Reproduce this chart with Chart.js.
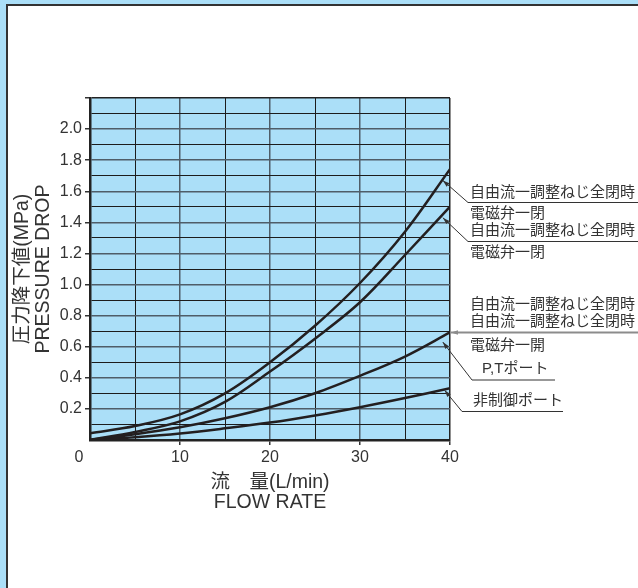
<!DOCTYPE html>
<html>
<head>
<meta charset="utf-8">
<script src="https://cdn.jsdelivr.net/npm/chart.js@4.4.1/dist/chart.umd.min.js"></script>
<style>
  html, body { margin: 0; padding: 0; width: 638px; height: 588px; overflow: hidden; background: #abdff8; }
  #panel { position: absolute; left: 6px; top: 4px; width: 700px; height: 700px; background: #fff;
           border-left: 2px solid #333; border-top: 2px solid #333; }
  #wrap { position: absolute; left: 0; top: 0; width: 638px; height: 588px; }
</style>
</head>
<body>
<div id="panel"></div>
<div id="wrap"><canvas id="chart" width="638" height="588"></canvas></div>
<script>
// 流量 (L/min)
const flowRate = [0, 5, 10, 15, 20, 25, 30, 35, 40];
// 圧力降下値 (MPa)
const freeFlowClosedA = [0.043, 0.09, 0.165, 0.30, 0.50, 0.735, 1.01, 1.34, 1.742];
const freeFlowClosedB = [0, 0.052, 0.12, 0.245, 0.44, 0.652, 0.886, 1.19, 1.501];
const ptPort = [0, 0.037, 0.082, 0.14, 0.211, 0.301, 0.413, 0.537, 0.692];
const uncontrolledPort = [0, 0.018, 0.042, 0.075, 0.112, 0.158, 0.211, 0.27, 0.333];

const xTitle = ['流　量(L/min)', 'FLOW RATE'];
const yTitle = ['圧力降下値(MPa)', 'PRESSURE DROP'];
const LABEL_FREE = '自由流一調整ねじ全閉時';
const LABEL_CLOSED = '電磁弁一閉';
const LABEL_OPEN = '電磁弁一開';
const LABEL_PT = 'P,Tポート';
const LABEL_NC = '非制御ポート';

const INK = '#231f20';
const TEXT = '#333';
const PLOT_BG = '#abdff8';
const FONT = '"Liberation Sans", "Noto Sans CJK JP", sans-serif';

function series(values) {
  return flowRate.map((x, i) => ({ x: x, y: values[i] }));
}

const plotBackground = {
  id: 'plotBackground',
  beforeDraw(chart) {
    const { ctx, chartArea: a } = chart;
    ctx.save();
    ctx.fillStyle = PLOT_BG;
    ctx.fillRect(a.left, a.top, a.right - a.left, a.bottom - a.top);
    ctx.restore();
  }
};

function arrow(ctx, x1, y1, tx, ty, color, width) {
  const ang = Math.atan2(ty - y1, tx - x1);
  ctx.save();
  ctx.strokeStyle = color;
  ctx.fillStyle = color;
  ctx.lineWidth = width;
  ctx.beginPath();
  ctx.moveTo(x1, y1);
  ctx.lineTo(tx, ty);
  ctx.stroke();
  const len = 7, half = 2.2;
  ctx.beginPath();
  ctx.moveTo(tx, ty);
  ctx.lineTo(tx - len * Math.cos(ang) + half * Math.sin(ang), ty - len * Math.sin(ang) - half * Math.cos(ang));
  ctx.lineTo(tx - len * Math.cos(ang) - half * Math.sin(ang), ty - len * Math.sin(ang) + half * Math.cos(ang));
  ctx.closePath();
  ctx.fill();
  ctx.restore();
}

const callouts = {
  id: 'callouts',
  afterDraw(chart) {
    const { ctx, chartArea: a } = chart;
    const xs = chart.scales.x, ys = chart.scales.y;
    const R = a.right;
    const W = chart.width;
    ctx.save();

    // origin label sits left of the axis corner
    ctx.font = '16px ' + FONT;
    ctx.fillStyle = TEXT;
    ctx.textAlign = 'center';
    ctx.textBaseline = 'middle';
    ctx.fillText('0', xs.left - 11, xs.top + 8 + 9.6);

    ctx.font = '15px ' + FONT;
    ctx.textAlign = 'left';
    const text = (s, x, y) => { ctx.fillStyle = TEXT; ctx.fillText(s, x, y); };
    const line = (x1, y1, x2, y2) => {
      ctx.strokeStyle = TEXT; ctx.lineWidth = 1;
      ctx.beginPath(); ctx.moveTo(x1, y1); ctx.lineTo(x2, y2); ctx.stroke();
    };

    // top curve
    text(LABEL_FREE, R + 20, 192.5);
    line(R + 18, 202.5, W, 202.5);
    text(LABEL_CLOSED, R + 20, 213.5);
    arrow(ctx, R + 18, 202.5, xs.getPixelForValue(39.2), ys.getPixelForValue(1.67), TEXT, 1);

    // second curve
    text(LABEL_FREE, R + 20, 231);
    line(R + 18, 241.5, W, 241.5);
    text(LABEL_CLOSED, R + 20, 253);
    arrow(ctx, R + 18, 241.5, xs.getPixelForValue(39.2), ys.getPixelForValue(1.43), TEXT, 1);

    // third curve
    text(LABEL_FREE, R + 20, 304.5);
    text(LABEL_FREE, R + 20, 321.5);
    const yEnd = ys.getPixelForValue(ptPort[ptPort.length - 1]);
    arrow(ctx, W, yEnd, R + 1, yEnd, '#8c8c8c', 2);
    text(LABEL_OPEN, R + 20, 345.5);
    text(LABEL_PT, R + 32, 368.5);
    line(R + 22, 380, R + 105, 380);
    arrow(ctx, R + 22, 380, xs.getPixelForValue(39.2), ys.getPixelForValue(0.63), TEXT, 1);

    // bottom curve
    text(LABEL_NC, R + 23, 400.5);
    line(R + 12, 411.5, R + 113, 411.5);
    arrow(ctx, R + 12, 411.5, xs.getPixelForValue(39.4), ys.getPixelForValue(0.32), TEXT, 1);

    ctx.restore();
  }
};

const curve = values => ({
  data: series(values),
  borderColor: INK,
  borderWidth: 2.5,
  pointRadius: 0,
  tension: 0.35,
  fill: false
});

new Chart(document.getElementById('chart'), {
  type: 'line',
  data: {
    datasets: [
      curve(freeFlowClosedA),
      curve(freeFlowClosedB),
      curve(ptPort),
      curve(uncontrolledPort)
    ]
  },
  options: {
    responsive: false,
    animation: false,
    layout: { padding: { left: 0, top: 98, right: 188, bottom: 0 } },
    plugins: { legend: { display: false }, tooltip: { enabled: false } },
    scales: {
      x: {
        type: 'linear',
        min: 0,
        max: 40,
        afterFit: s => { s.height = 148; },
        ticks: {
          stepSize: 5,
          autoSkip: false,
          maxRotation: 0,
          padding: 3,
          color: TEXT,
          font: { family: FONT, size: 16 },
          callback: v => (v % 10 === 0 && v > 0) ? String(v) : ''
        },
        grid: {
          color: c => c.tick.value === 40 ? '#222' : (c.tick.value % 10 === 0 ? '#4f5d68' : '#1c1c1c'),
          lineWidth: c => c.tick.value % 10 === 0 ? 1.5 : 1,
          tickLength: 5,
          tickColor: c => (c.tick.value % 10 === 0 && c.tick.value > 0) ? '#333' : 'rgba(0,0,0,0)'
        },
        border: { color: '#222', width: 2.5 },
        title: {
          display: true,
          text: xTitle,
          color: TEXT,
          font: { family: FONT, size: 19.5, lineHeight: 1.05 },
          padding: { top: 0, bottom: 75 }
        }
      },
      y: {
        min: 0,
        max: 2.2,
        afterFit: s => { s.width = 90; },
        ticks: {
          stepSize: 0.1,
          autoSkip: false,
          padding: 3,
          color: TEXT,
          font: { family: FONT, size: 16 },
          callback: v => {
            const i = Math.round(v * 10);
            return (i % 2 === 0 && i > 0 && i < 22) ? (i / 10).toFixed(1) : '';
          }
        },
        grid: {
          color: c => {
            const i = Math.round(c.tick.value * 10);
            return i === 22 ? '#222' : (i % 2 === 0 ? '#4f5d68' : '#1c1c1c');
          },
          lineWidth: c => Math.round(c.tick.value * 10) % 2 === 0 ? 1.5 : 1,
          tickLength: 5,
          tickColor: c => {
            const i = Math.round(c.tick.value * 10);
            return (i % 2 === 0 && i > 0) ? '#333' : 'rgba(0,0,0,0)';
          }
        },
        border: { color: '#222', width: 2.5 },
        title: {
          display: true,
          text: yTitle,
          color: TEXT,
          font: { family: FONT, size: 19.5, lineHeight: 1.08 },
          padding: { top: 12, bottom: 0 }
        }
      }
    }
  },
  plugins: [plotBackground, callouts]
});
</script>
</body>
</html>
